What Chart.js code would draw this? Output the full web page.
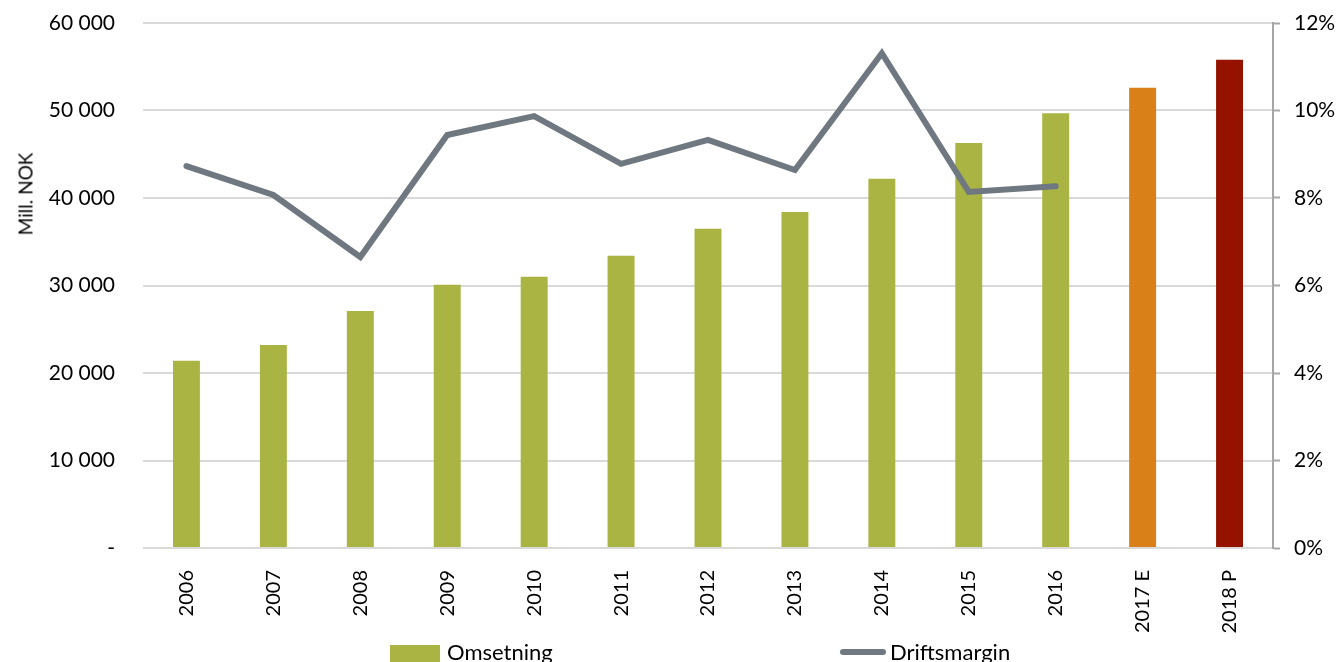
<!DOCTYPE html>
<html>
<head>
<meta charset="utf-8">
<script src="https://cdn.jsdelivr.net/npm/chart.js@4"></script>
<style>
  body { margin: 0; background: #fff; }
  #wrap { position: relative; width: 1340px; height: 662px; overflow: hidden; font-family: Lato, sans-serif; }
  #yTitle { position: absolute; left: 25px; top: 194px; transform: translate(-50%, -50%) rotate(-90deg); font-size: 19px; white-space: nowrap; color: #000; }
  .leg { position: absolute; top: 638px; font-size: 22px; color: #000; white-space: nowrap; }
  .leg .box { display: inline-block; width: 50px; height: 17px; background: #a9b443; vertical-align: -2px; margin-right: 7px; }
  .leg .ln { display: inline-block; width: 46px; height: 6px; border-radius: 3px; background: #6f7880; vertical-align: 5px; margin-right: 4px; }
</style>
</head>
<body>
<div id="wrap">
  <canvas id="chart" width="1340" height="662"></canvas>
  <div id="yTitle">Mill. NOK</div>
  <div class="leg" style="left:390px"><span class="box"></span>Omsetning</div>
  <div class="leg" style="left:840px"><span class="ln"></span>Driftsmargin</div>
</div>
<script>
const years = ["2006", "2007", "2008", "2009", "2010", "2011", "2012", "2013", "2014", "2015", "2016", "2017 E", "2018 P"];
const omsetning = [21400, 23200, 27100, 30100, 31000, 33400, 36500, 38400, 42200, 46300, 49700, 52600, 55800];
const driftsmargin = [0.0873, 0.0807, 0.0665, 0.0944, 0.0987, 0.0878, 0.0933, 0.0864, 0.1131, 0.0814, 0.0827, null, null];
const barColors = ["#a9b443", "#a9b443", "#a9b443", "#a9b443", "#a9b443", "#a9b443", "#a9b443", "#a9b443", "#a9b443", "#a9b443", "#a9b443", "#d98018", "#961200"];

Chart.defaults.font.family = "Lato, sans-serif";
Chart.defaults.font.size = 21;
Chart.defaults.color = "#000";

const fmtThousands = (v) => {
  if (v === 0) return "-";
  return String(v).replace(/\B(?=(\d{3})+(?!\d))/g, " ");
};

// fixed axis sizes so the plot area lands where the original one is
const fixWidth = (w) => (scale) => {
  scale.width = w;
  scale.paddingTop = 0;
  scale.paddingBottom = 0;
};

new Chart(document.getElementById("chart"), {
  data: {
    labels: years,
    datasets: [
      {
        type: "line",
        label: "Driftsmargin",
        data: driftsmargin,
        yAxisID: "y1",
        borderColor: "#6f7880",
        borderWidth: 6,
        borderCapStyle: "round",
        pointRadius: 0,
        tension: 0,
        order: 0,
      },
      {
        type: "bar",
        label: "Omsetning",
        data: omsetning,
        yAxisID: "y",
        backgroundColor: barColors,
        categoryPercentage: 1,
        barPercentage: 0.31,
        order: 1,
      },
    ],
  },
  options: {
    responsive: false,
    animation: false,
    layout: { padding: { top: 23, left: 0, right: 0, bottom: 0 } },
    plugins: {
      legend: { display: false },
      tooltip: { enabled: false },
    },
    scales: {
      x: {
        grid: { display: false },
        border: { display: false },
        ticks: { minRotation: 90, maxRotation: 90, padding: 14, font: { size: 20 } },
        afterFit: (scale) => {
          scale.height = 114;
          scale.paddingLeft = 0;
          scale.paddingRight = 0;
        },
      },
      y: {
        position: "left",
        min: 0,
        max: 60000,
        ticks: { stepSize: 10000, padding: 28, callback: fmtThousands },
        grid: { color: "#d9d9d9", lineWidth: 2, drawTicks: false },
        border: { display: false },
        afterFit: fixWidth(143),
      },
      y1: {
        position: "right",
        min: 0,
        max: 0.12,
        ticks: {
          stepSize: 0.02,
          padding: 14,
          callback: (v) => Math.round(v * 100) + "%",
        },
        grid: { drawOnChartArea: false, tickLength: 7, tickColor: "#a6a6a6", tickWidth: 2 },
        border: { color: "#a6a6a6", width: 2 },
        afterFit: fixWidth(67),
      },
    },
  },
});
</script>
</body>
</html>
